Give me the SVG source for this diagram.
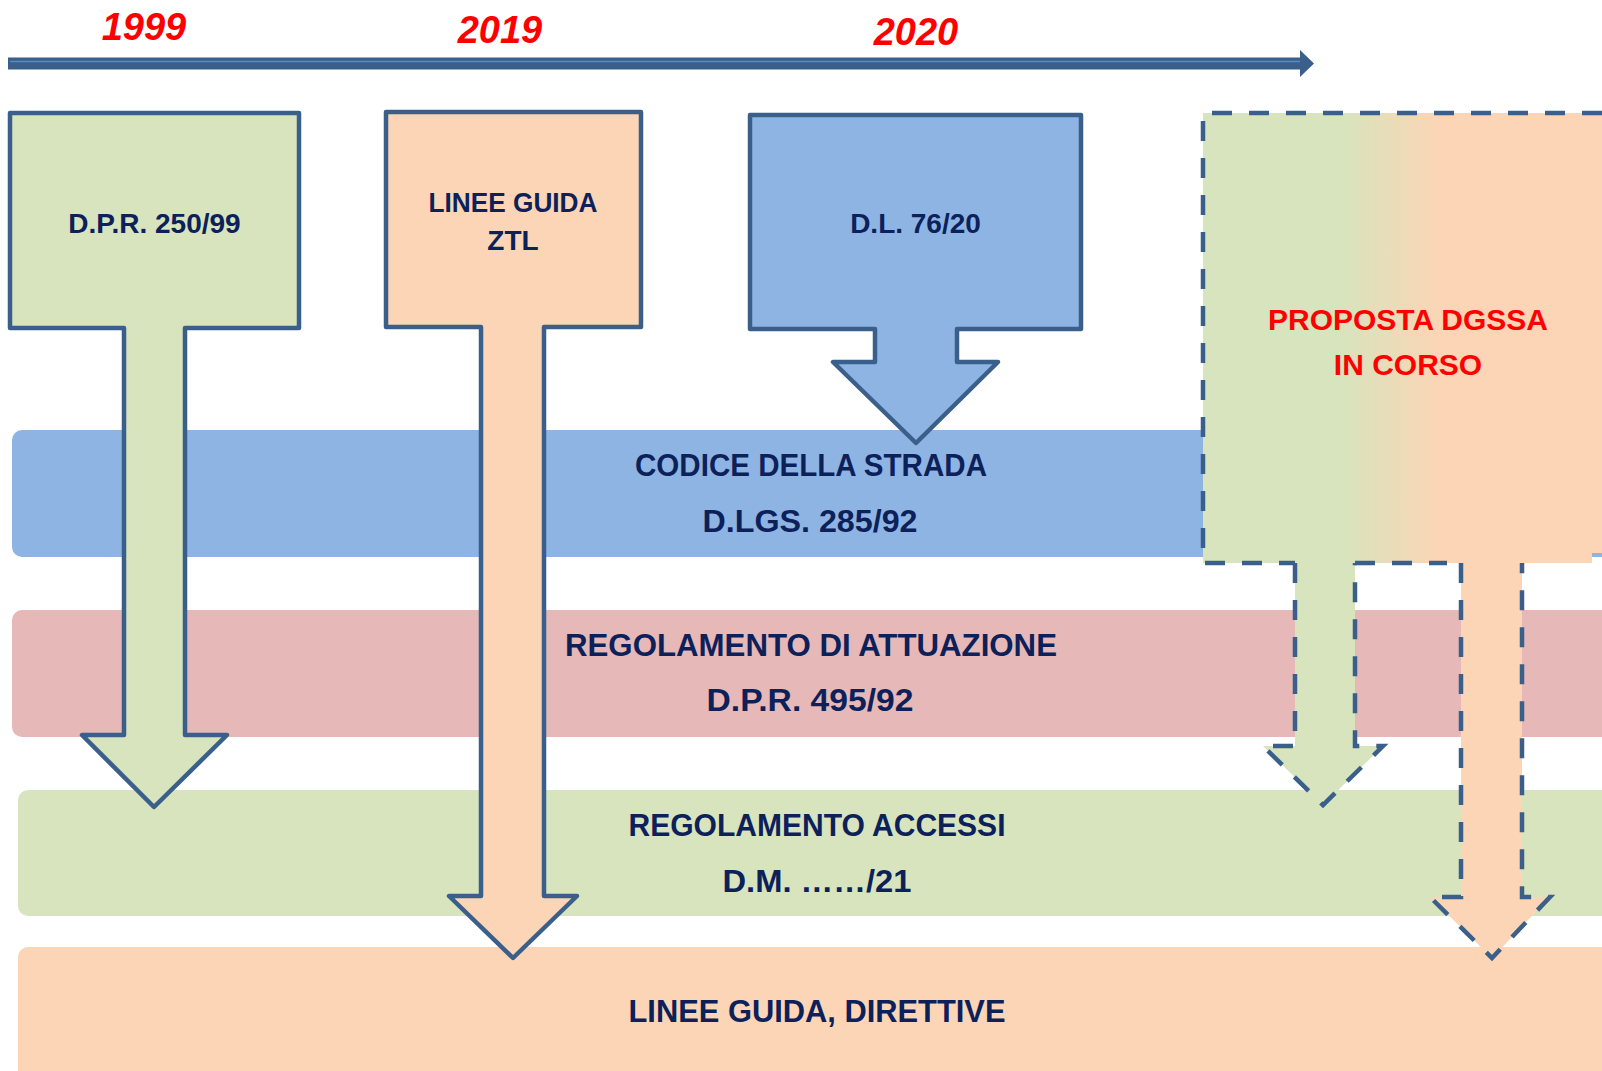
<svg xmlns="http://www.w3.org/2000/svg" width="1602" height="1071" viewBox="0 0 1602 1071">
<style>
.band{stroke:none}
.t{font-family:"Liberation Sans",Arial,sans-serif;font-weight:bold;fill:#0C215A;text-anchor:middle}
.b{font-size:31px}
.yr{font-family:"Liberation Sans",Arial,sans-serif;font-weight:bold;font-style:italic;fill:#FF0000;text-anchor:middle;font-size:38px}
.red{font-family:"Liberation Sans",Arial,sans-serif;font-weight:bold;fill:#FF0000;text-anchor:middle;font-size:30px}
.solid{stroke:#3A5F8A;stroke-width:4.5;stroke-linejoin:round}
.dash{fill:none;stroke:#3A5F8A;stroke-width:4.5;stroke-dasharray:20 17}
</style>
<defs>
<linearGradient id="gr" gradientUnits="userSpaceOnUse" x1="1340" y1="0" x2="1440" y2="0">
<stop offset="0" stop-color="#D7E4BD"/>
<stop offset="1" stop-color="#FBD5B5"/>
</linearGradient>
</defs>
<rect width="1602" height="1071" fill="#FFFFFF"/>

<g id="bands">
<g id="band-codice"><rect class="band" x="12" y="430" width="1620" height="127" rx="10" fill="#8EB4E3"/>
<text class="t b" x="811" y="476" textLength="352" lengthAdjust="spacingAndGlyphs">CODICE DELLA STRADA</text>
<text class="t b" x="810" y="532" textLength="215" lengthAdjust="spacingAndGlyphs">D.LGS. 285/92</text></g>
<g id="band-regolamento"><rect class="band" x="12" y="610" width="1620" height="127" rx="10" fill="#E6B8B7"/>
<text class="t b" x="811" y="656" textLength="492" lengthAdjust="spacingAndGlyphs">REGOLAMENTO DI ATTUAZIONE</text>
<text class="t b" x="810" y="711" textLength="207" lengthAdjust="spacingAndGlyphs">D.P.R. 495/92</text></g>
<g id="band-accessi"><rect class="band" x="18" y="790" width="1620" height="126" rx="10" fill="#D7E4BD"/>
<text class="t b" x="817" y="836" textLength="377" lengthAdjust="spacingAndGlyphs">REGOLAMENTO ACCESSI</text>
<text class="t b" x="817" y="892" textLength="189" lengthAdjust="spacingAndGlyphs">D.M. ……/21</text></g>
<g id="band-linee"><rect class="band" x="18" y="947" width="1620" height="150" rx="10" fill="#FBD5B5"/>
<text class="t b" x="817" y="1022" textLength="377" lengthAdjust="spacingAndGlyphs">LINEE GUIDA, DIRETTIVE</text></g>
</g>

<g id="timeline">
<path d="M8,57.5 H1300 V50 L1314,63.5 L1300,77 V69.5 H8 Z" fill="#3A5F8A"/>
<line x1="10" y1="61.5" x2="1300" y2="61.5" stroke="#5B8BC6" stroke-width="1.5"/>
<text class="yr" x="144" y="40">1999</text>
<text class="yr" x="500" y="43">2019</text>
<text class="yr" x="916" y="45">2020</text>
</g>

<g id="connectors">
<g id="arrow-dpr250"><path class="solid" fill="#D7E4BD" d="M10,113 H299 V328 H185 V735 H227 L154,807 L82,735 H124 V328 H10 Z"/></g>
<g id="arrow-ztl"><path class="solid" fill="#FBD5B5" d="M386,112 H641 V327 H544 V896 H577 L513,958 L449,896 H481 V327 H386 Z"/></g>
<g id="arrow-dl76"><path class="solid" fill="#8EB4E3" d="M750,115 H1081 V329 H957 V362 H998 L916,443 L833,362 H875 V329 H750 Z"/></g>
</g>

<g id="node-dpr250"><text class="t" x="154.5" y="233" font-size="28">D.P.R. 250/99</text></g>
<g id="node-ztl"><text class="t" x="513" y="212" font-size="28" textLength="169" lengthAdjust="spacingAndGlyphs">LINEE GUIDA</text>
<text class="t" x="513" y="250" font-size="28">ZTL</text></g>
<g id="node-dl76"><text class="t" x="915.5" y="233" font-size="28">D.L. 76/20</text></g>

<g id="node-proposta">
<path d="M1203,113 H1602 V553 H1592 V563 H1203 Z" fill="url(#gr)"/>
<path fill="#D7E4BD" stroke="none" d="M1295,560 V746 H1263 L1323,805 L1383,746 H1355 V560 Z"/>
<path fill="#FBD5B5" stroke="none" d="M1461,558 V897 H1430 L1492,958 L1550,897 H1522 V558 Z"/>
<path class="dash" d="M1602,113 H1203 V563 H1295"/>
<path class="dash" d="M1355,563 H1447"/>
<path class="dash" d="M1295,563 V746 H1263 L1323,805 L1383,746 H1355 V563"/>
<path class="dash" d="M1461,563 V897 H1430 L1492,958 L1550,897 H1522 V563"/>
<text class="red" x="1408" y="330">PROPOSTA DGSSA</text>
<text class="red" x="1408" y="375">IN CORSO</text>
</g>
</svg>
